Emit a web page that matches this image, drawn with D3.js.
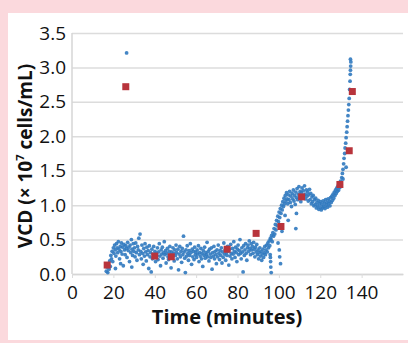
<!DOCTYPE html>
<html>
<head>
<meta charset="utf-8">
<script src="https://cdn.jsdelivr.net/npm/d3@7"></script>
<style>
  body { margin: 0; background: #fbd9dd; }
  svg { display: block; }
  text { font-family: "Open Sans", "Noto Sans", sans-serif; fill: #111; }
</style>
</head>
<body>
<div id="chart"></div>
<script>
// tick labels
const xTicks = [0, 20, 40, 60, 80, 100, 120, 140];
const yTicks = [0, 0.5, 1.0, 1.5, 2.0, 2.5, 3.0, 3.5];

// offline samples (red squares): time in minutes, VCD x10^7 cells/mL
const sampleTime = [17, 26, 40, 48, 75, 89, 101, 111, 129.5, 134, 135.5];
const sampleVcd = [0.13, 2.72, 0.26, 0.25, 0.36, 0.59, 0.69, 1.12, 1.30, 1.79, 2.65];

// online readings (blue dots): [time, VCD]
const onlineReadings = [
  [16.6,0.04],[16.9,0.10],[17.3,0.02],[17.6,0.14],[17.9,0.07],[18.2,0.19],[18.5,0.11],[18.8,0.27],[19.1,0.22],[19.4,0.33],[19.7,0.18],[20.0,0.38],
  [20.3,0.30],[20.6,0.42],[20.9,0.35],[21.0,0.08],[21.2,0.26],[21.5,0.44],[21.8,0.38],[22.1,0.31],[22.4,0.47],[22.7,0.36],[23.0,0.22],[23.3,0.40],[23.5,0.15],[23.6,0.33],[23.9,0.45],
  [24.2,0.29],[24.5,0.39],[24.8,0.12],[25.1,0.43],[25.4,0.35],[25.7,0.28],[26.0,0.41],[26.3,0.37],[26.4,3.21],[26.6,0.24],[26.9,0.46],[27.2,0.34],[27.5,0.39],[27.8,0.18],
  [28.1,0.42],[28.4,0.31],[28.7,0.50],[28.9,0.10],[29.0,0.36],[29.3,0.27],[29.6,0.44],[29.9,0.33],
  [30.2,0.38],[30.5,0.25],[30.8,0.45],[31.1,0.31],[31.4,0.20],[31.7,0.40],[32.0,0.35],[32.3,0.52],[32.6,0.28],[32.9,0.58],[33.2,0.33],[33.5,0.22],[33.8,0.42],
  [34.1,0.30],[34.4,0.14],[34.7,0.37],[35.0,0.26],[35.3,0.44],[35.6,0.32],[35.9,0.19],[36.2,0.39],[36.5,0.28],[36.8,0.34],[37.1,0.08],[37.4,0.41],[37.7,0.25],
  [38.0,0.31],[38.3,0.03],[38.6,0.36],[38.9,0.22],[39.2,0.29],[39.5,0.40],[39.8,0.24],[40.1,0.33],[40.4,0.18],[40.7,0.30],[41.0,0.27],[41.3,0.38],[41.6,0.21],
  [41.9,0.32],[42.2,0.44],[42.5,0.26],[42.8,0.12],[43.1,0.35],[43.4,0.29],[43.7,0.39],[44.0,0.23],[44.3,0.31],[44.6,0.47],[44.9,0.28],[45.2,0.34],[45.5,0.16],
  [45.8,0.30],[46.1,0.37],[46.4,0.25],[46.7,0.21],[47.0,0.33],[47.3,0.40],[47.6,0.28],[47.9,0.09],[48.2,0.32],[48.5,0.24],[48.8,0.38],[49.1,0.30],[49.4,0.19],
  [49.7,0.35],[50.0,0.27],[50.3,0.42],[50.6,0.31],[50.9,0.22],[51.2,0.36],[51.5,0.06],[51.8,0.29],[52.1,0.40],[52.4,0.25],[52.7,0.33],[53.0,0.17],[53.3,0.37],
  [53.6,0.28],[53.9,0.55],[54.2,0.32],[54.5,0.23],[54.8,0.02],[55.1,0.35],[55.4,0.26],[55.7,0.41],[56.0,0.30],[56.3,0.20],[56.6,0.34],[56.9,0.27],[57.2,0.44],
  [57.5,0.31],[57.8,0.14],[58.1,0.36],[58.4,0.25],[58.7,0.33],[59.0,0.21],[59.3,0.39],[59.6,0.28],[59.9,0.32],
  [60.2,0.24],[60.5,0.35],[60.8,0.29],[61.1,0.41],[61.4,0.18],[61.7,0.31],[62.0,0.26],[62.3,0.37],[62.6,0.22],[62.9,0.30],[63.2,0.11],[63.5,0.34],[63.8,0.27],
  [64.1,0.39],[64.4,0.23],[64.7,0.31],[65.0,0.28],[65.3,0.46],[65.6,0.25],[65.9,0.33],[66.2,0.19],[66.5,0.36],[66.8,0.29],[67.1,0.24],[67.4,0.38],[67.7,0.07],
  [68.0,0.31],[68.3,0.26],[68.6,0.40],[68.9,0.22],[69.2,0.33],[69.5,0.28],[69.8,0.15],[70.1,0.35],[70.4,0.25],[70.7,0.42],[71.0,0.30],[71.3,0.21],[71.6,0.34],
  [71.9,0.27],[72.2,0.38],[72.5,0.16],[72.8,0.32],[73.1,0.24],[73.4,0.45],[73.7,0.29],[74.0,0.35],[74.3,0.20],[74.6,0.31],[74.9,0.27],[75.2,0.40],[75.5,0.33],
  [75.8,0.13],[76.1,0.36],[76.4,0.26],[76.7,0.43],[77.0,0.30],[77.3,0.22],[77.6,0.37],[77.9,0.29],[78.2,0.47],[78.5,0.33],[78.8,0.24],[79.1,0.39],[79.4,0.31],
  [79.7,0.18],[80.0,0.36],[80.3,0.42],[80.6,0.28],[80.9,0.34],[81.2,0.50],[81.5,0.30],[81.8,0.22],[82.1,0.38],[82.4,0.32],[82.7,0.03],[83.0,0.41],[83.3,0.27],
  [83.6,0.35],[83.9,0.44],[84.2,0.30],[84.5,0.20],[84.8,0.38],
  [85.1,0.42],[85.4,0.33],[85.7,0.48],[86.0,0.37],[86.3,0.28],[86.6,0.44],[86.9,0.35],[87.2,0.40],[87.5,0.30],[87.8,0.46],[88.1,0.36],[88.4,0.25],[88.7,0.39],
  [89.0,0.32],[89.3,0.43],[89.6,0.28],[89.9,0.35],[90.2,0.22],[90.5,0.31],[90.8,0.38],[91.1,0.26],[91.4,0.33],[91.7,0.20],[92.0,0.29],[92.3,0.36],[92.6,0.24],
  [92.9,0.31],[93.2,0.40],[93.5,0.28],[93.8,0.35],[94.1,0.42],[94.4,0.32],[94.7,0.45],[95.0,0.38],[95.3,0.48],[95.6,0.41],[95.9,0.52],
  [95.8,0.28],[95.9,0.24],[96.0,0.18],[96.1,0.10],[96.3,0.02],
  [96.2,0.50],[96.5,0.56],[96.8,0.47],[97.1,0.60],[97.4,0.55],[97.7,0.66],[98.0,0.58],[98.3,0.72],[98.6,0.64],[98.9,0.78],[99.2,0.70],[99.5,0.84],[99.6,0.45],
  [99.8,0.76],[100.1,0.90],[100.2,0.35],[100.4,0.25],[100.4,0.82],[100.7,0.95],[100.8,0.15],[101.0,0.88],[101.3,1.00],[101.5,0.62],[101.6,0.93],[101.9,1.05],
  [102.2,0.98],[102.5,1.10],[102.8,1.02],[103.0,0.85],[103.1,1.14],[103.4,1.06],[103.7,1.18],[104.0,1.09],[104.5,0.78],[108.2,0.66],[108.5,0.88],
  [104.3,1.02],[104.6,1.15],[104.9,1.08],[105.2,1.20],[105.5,1.04],[105.8,1.13],[106.1,0.98],[106.4,1.17],[106.7,1.09],[107.0,1.22],[107.3,1.06],[107.6,1.14],
  [107.9,1.01],[108.2,1.19],[108.5,1.11],[108.8,1.24],[109.1,1.08],[109.4,1.16],[109.7,1.27],[110.0,1.12],[110.3,1.20],[110.6,1.05],[110.9,1.18],[111.2,1.25],
  [111.5,1.10],[111.8,1.21],[112.1,1.14],[112.4,1.28],[112.7,1.16],[113.0,1.09],[113.3,1.22],[113.6,1.13],[113.9,1.19],[114.2,1.06],[114.5,1.15],[114.8,1.23],
  [115.1,1.08],[115.4,1.17],[115.7,1.02],[116.0,1.12],[116.3,1.05],[116.6,1.14],[116.9,0.99],[117.2,1.08],[117.5,1.01],[117.8,1.10],[118.1,0.96],[118.4,1.04],
  [118.7,0.99],[119.0,1.07],[119.3,0.94],[119.6,1.02],[119.9,0.97],[120.2,1.05],[120.5,0.93],[120.8,1.01],[121.1,0.96],[121.4,1.06],[121.7,0.98],[122.0,1.03],
  [122.3,0.95],[122.6,1.08],[122.9,1.00],[123.2,1.04],[123.5,0.97],[123.8,1.09],[124.1,1.02],[124.4,1.06],[124.7,0.99],[125.0,1.11],[125.3,1.04],[125.6,1.13],
  [125.9,1.07],[126.2,1.16],[126.5,1.10],[126.8,1.19],[127.1,1.14],[127.4,1.22],[127.7,1.17],[128.0,1.25],
  [128.3,1.20],[128.6,1.28],[128.9,1.22],[129.2,1.31],[129.5,1.26],[129.8,1.35],[130.1,1.30],[130.4,1.40],[130.7,1.46],[131.0,1.52],[131.0,1.38],[131.3,1.60],
  [131.5,1.68],[131.8,1.75],[132.0,1.83],[132.3,1.90],[132.5,1.98],[132.5,1.55],[132.8,2.06],[133.0,2.14],[133.2,2.22],[133.4,2.30],[133.6,2.38],[133.8,2.46],
  [134.0,2.55],[134.2,2.68],[134.4,2.80],[134.5,2.90],[134.6,2.96],[134.7,3.02],[134.8,3.08],[134.6,3.12]
];

const width = 408, height = 343;

const svg = d3.select('#chart')
  .append('svg')
  .attr('width', width)
  .attr('height', height);

// white panel on pink page
svg.append('rect')
  .attr('x', 8).attr('y', 13)
  .attr('width', 400).attr('height', 327)
  .attr('fill', '#ffffff');

const x = d3.scaleLinear().domain([0, 160]).range([72, 403]);
const y = d3.scaleLinear().domain([0, 3.5]).range([274, 33]);

// y axis + gridlines
const yAxis = svg.append('g')
  .attr('transform', `translate(${x(0)},0)`)
  .call(d3.axisLeft(y).tickValues(yTicks).tickFormat(d3.format('.1f'))
    .tickSize(-(x(160) - x(0))).tickPadding(6));
yAxis.select('.domain').remove();
yAxis.selectAll('.tick line').attr('stroke', '#dcdcdc').attr('stroke-width', 1.5);
yAxis.selectAll('.tick text').attr('font-size', 19).attr('fill', '#111');
svg.append('line')
  .attr('x1', x(0)).attr('x2', x(0))
  .attr('y1', y(3.5)).attr('y2', y(0))
  .attr('stroke', '#d6d6d6').attr('stroke-width', 1.5);

// x axis
const xAxis = svg.append('g')
  .attr('transform', `translate(0,${y(0)})`)
  .call(d3.axisBottom(x).tickValues(xTicks).tickSize(4).tickPadding(8).tickSizeOuter(0));
xAxis.select('.domain').attr('stroke', '#d6d6d6').attr('stroke-width', 1.5);
xAxis.selectAll('.tick line').attr('stroke', '#dcdcdc');
xAxis.selectAll('.tick text').attr('font-size', 19).attr('fill', '#111');

// online readings
svg.append('g')
  .selectAll('circle')
  .data(onlineReadings)
  .enter()
  .append('circle')
  .attr('cx', d => x(d[0]))
  .attr('cy', d => y(d[1]))
  .attr('r', 1.9)
  .attr('fill', '#3079bf')
  .attr('fill-opacity', 0.9);

// offline samples
svg.append('g')
  .selectAll('rect')
  .data(sampleTime)
  .enter()
  .append('rect')
  .attr('x', d => x(d) - 3.5)
  .attr('y', (d, i) => y(sampleVcd[i]) - 3.5)
  .attr('width', 7)
  .attr('height', 7)
  .attr('fill', '#b8343c');

// axis titles
svg.append('text')
  .attr('x', 227).attr('y', 324)
  .attr('text-anchor', 'middle')
  .attr('font-size', 20).attr('font-weight', 'bold')
  .text('Time (minutes)');

const yTitle = svg.append('text')
  .attr('transform', 'translate(32,156) rotate(-90)')
  .attr('text-anchor', 'middle')
  .attr('font-size', 19).attr('font-weight', 'bold');
yTitle.append('tspan').text('VCD (× 10');
yTitle.append('tspan').attr('font-size', 11).attr('dy', -8).text('7');
yTitle.append('tspan').attr('dy', 8).text(' cells/mL)');
</script>
</body>
</html>
